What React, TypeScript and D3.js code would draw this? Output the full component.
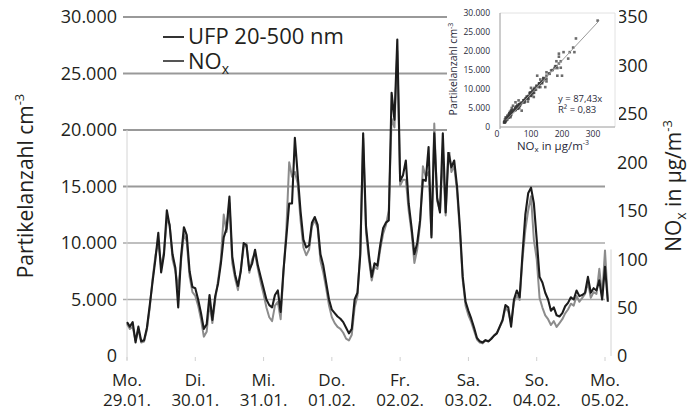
import React from "react";
import * as d3 from "d3";

// Hourly values, Mo 29.01. 00:00 ... Mo 05.02. 01:00
const ufp = [3000,2600,3000,1200,2600,1300,1400,2500,4500,6600,
8600,10900,7400,9000,12900,11500,9000,7800,4300,8800,
11400,10700,7500,6100,6000,5000,3800,2400,2800,5400,
3200,5300,6400,8200,10500,11300,14100,8800,7200,6200,
7500,10000,9800,7600,8200,9400,8000,7000,6000,5000,
4500,4300,5400,5800,3900,7600,10500,13500,13500,19300,
16000,12800,10300,9600,9800,11800,12300,11600,9000,8000,
6500,5000,4100,3800,3500,3300,3000,2500,2000,2400,
5000,5600,9000,19700,11500,9000,7000,8200,8000,9800,
11300,11800,12000,23300,20900,28000,15500,16000,17300,13500,
11400,9000,10000,12000,15600,15500,18500,10500,19700,14000,
12700,19700,12700,18000,16700,17300,15000,11400,7000,4800,
4000,3300,2500,1600,1300,1200,1400,1300,1500,1800,
2000,2600,3200,4500,4300,2600,5000,5800,5200,9000,
12500,14400,14900,13500,10300,7000,6500,5600,5000,4000,
4300,3600,3500,3800,4400,4700,5200,5000,5800,5300,
5400,5600,7000,5600,6000,5800,6700,5000,7900,4800];

const nox = [33,28,30,16,27,14,15,27,50,80,
104,118,92,108,140,136,100,88,70,98,
126,118,82,66,62,52,38,20,25,55,
34,58,78,100,146,128,158,96,80,68,
90,112,116,86,100,106,90,76,64,50,
40,36,52,56,38,86,130,200,185,190,
178,140,112,104,110,134,140,132,98,86,
70,52,40,34,30,28,24,18,16,22,
50,62,110,225,128,100,78,92,90,110,
126,135,150,245,236,315,176,182,182,150,
128,96,110,136,196,185,190,125,240,160,
150,205,145,220,190,196,170,128,78,52,
42,35,26,17,14,13,16,15,18,21,
24,30,36,50,46,34,56,62,58,100,
130,150,165,120,100,60,50,42,38,32,
36,30,34,38,44,48,54,52,62,56,
60,64,76,60,66,64,90,62,109,58];

const dayLabels = ["Mo.", "Di.", "Mi.", "Do.", "Fr.", "Sa.", "So.", "Mo."];
const dateLabels = ["29.01.", "30.01.", "31.01.", "01.02.", "02.02.", "03.02.", "04.02.", "05.02."];
const leftTicks = [0, 5000, 10000, 15000, 20000, 25000, 30000];
const rightTicks = [0, 50, 100, 150, 200, 250, 300, 350];
const insetXTicks = [0, 100, 200, 300];
const insetYTicks = [0, 5000, 10000, 15000, 20000, 25000, 30000];
const regSlope = 87.43;
const regRange = [20, 320];

const de = d3.formatLocale({ decimal: ",", thousands: ".", grouping: [3], currency: ["", "€"] });
const fmt = de.format(",");

const FONT = "'Open Sans', 'Noto Sans', sans-serif";
const TXT = "#231f20";
const INK = "#2a2a3a";

export default function App() {
  const x = d3.scaleLinear().domain([0, 168]).range([127, 605]);
  const yL = d3.scaleLinear().domain([0, 30000]).range([356, 17]);
  const yR = d3.scaleLinear().domain([0, 350]).range([356, 17]);

  const lineU = d3.line<number>().x((_, i) => x(i)).y((d) => yL(d));
  const lineN = d3.line<number>().x((_, i) => x(i)).y((d) => yR(d));

  const ix = d3.scaleLinear().domain([0, 371]).range([500, 615]);
  const iy = d3.scaleLinear().domain([0, 30000]).range([127, 13]);
  const pts = ufp.map((u, i) => [nox[i], u]);

  return (
    <svg width={691} height={410} style={{ position: "absolute", left: 0, top: 0, background: "#fff" }} fontFamily={FONT}>
      <rect width={691} height={410} fill="#fff" />
      {/* gridlines */}
      {leftTicks.filter((t) => t > 0).map((t) => (
        <line key={t} x1={123} x2={605} y1={yL(t)} y2={yL(t)}
          stroke={t >= 15000 ? "#999" : "#aaa"} strokeWidth={t >= 15000 ? 1.8 : 1.4} />
      ))}
      {/* axis lines */}
      <line x1={x(0)} x2={x(0)} y1={yL(20000)} y2={yL(0) + 4} stroke="#d4d4d4" strokeWidth={1} />
      <line x1={611} x2={611} y1={yR(110)} y2={yR(0)} stroke="#d4d4d4" strokeWidth={1} />
      {dayLabels.map((_, i) => (
        <line key={i} x1={x(i * 24)} x2={x(i * 24)} y1={357} y2={361} stroke="#d0d0d0" />
      ))}

      {/* series */}
      <path d={lineN(nox) || ""} fill="none" stroke="#8c8c8c" strokeWidth={2} strokeLinejoin="round" />
      <path d={lineU(ufp) || ""} fill="none" stroke="#1c1c1c" strokeWidth={2.1} strokeLinejoin="round" />

      {/* left ticks */}
      {leftTicks.map((t) => (
        <text key={t} x={117} y={yL(t)} dy="0.36em" textAnchor="end" fontSize={18} fill={TXT}>{fmt(t)}</text>
      ))}
      {/* right ticks */}
      {rightTicks.map((t) => (
        <text key={t} x={617} y={yR(t)} dy="0.36em" textAnchor="start" fontSize={18} fill={TXT}>{t}</text>
      ))}
      {/* x labels */}
      {dayLabels.map((d, i) => (
        <g key={i}>
          <text x={x(i * 24)} y={386} textAnchor="middle" fontSize={17} fill={TXT}>{d}</text>
          <text x={x(i * 24)} y={406} textAnchor="middle" fontSize={17} fill={TXT}>{dateLabels[i]}</text>
        </g>
      ))}

      {/* axis titles */}
      <text transform="translate(33,186) rotate(-90)" textAnchor="middle" fontSize={21} fill={TXT}>
        Partikelanzahl cm<tspan dy={-9} fontSize={13}>-3</tspan>
      </text>
      <text transform="translate(681,186) rotate(-90)" textAnchor="middle" fontSize={21} fill={TXT}>
        NO<tspan dy={5} fontSize={14}>x</tspan><tspan dy={-5}> in µg/m</tspan><tspan dy={-9} fontSize={13}>-3</tspan>
      </text>

      {/* legend */}
      <line x1={163} x2={184} y1={37} y2={37} stroke="#333" strokeWidth={2} />
      <line x1={163} x2={184} y1={61} y2={61} stroke="#555" strokeWidth={2} />
      <text x={188} y={44} fontSize={22} fill={TXT}>UFP 20-500 nm</text>
      <text x={188} y={69} fontSize={22} fill={TXT}>NO<tspan dy={5} fontSize={14}>x</tspan></text>

      {/* inset */}
      <rect x={447} y={0} width={172} height={152} fill="#fff" />
      <line x1={ix(0)} x2={615} y1={iy(30000)} y2={iy(30000)} stroke="#e2e2e2" />
      <line x1={615} x2={615} y1={iy(30000)} y2={iy(0)} stroke="#e2e2e2" />
      {pts.map((p, i) => (
        <rect key={i} x={ix(p[0]) - 1.3} y={iy(p[1]) - 1.3} width={2.6} height={2.6} fill="#3a3a3a" fillOpacity={0.75} />
      ))}
      <line x1={ix(regRange[0])} x2={ix(regRange[1])} y1={iy(regRange[0] * regSlope)} y2={iy(regRange[1] * regSlope)}
        stroke="#9a9a9a" strokeWidth={1} />
      <line x1={ix(0)} x2={ix(0)} y1={iy(30000)} y2={iy(0) + 2} stroke="#9a9a9a" strokeWidth={1} />
      <line x1={ix(0)} x2={615} y1={iy(0)} y2={iy(0)} stroke="#9a9a9a" strokeWidth={1} />
      {insetYTicks.map((t) => (
        <text key={t} x={490} y={iy(t)} dy="0.35em" textAnchor="end" fontSize={8.5} fill={INK}>{fmt(t)}</text>
      ))}
      {insetXTicks.map((t) => (
        <text key={t} x={t === 0 ? ix(t) - 3 : ix(t)} y={137} textAnchor="middle" fontSize={8.5} fill={INK}>{t}</text>
      ))}
      <text transform="translate(457,69) rotate(-90)" textAnchor="middle" fontSize={10.5} fill={INK}>
        Partikelanzahl cm<tspan dy={-4} fontSize={7}>-3</tspan>
      </text>
      <text x={553} y={150} textAnchor="middle" fontSize={11.5} fill={INK}>
        NO<tspan dy={2} fontSize={8}>x</tspan><tspan dy={-2}> in µg/m</tspan><tspan dy={-5} fontSize={7}>-3</tspan>
      </text>
      <text x={558} y={102} fontSize={9.5} fill={INK}>y = 87,43x</text>
      <text x={558} y={113} fontSize={9.5} fill={INK}>R² = 0,83</text>
    </svg>
  );
}
